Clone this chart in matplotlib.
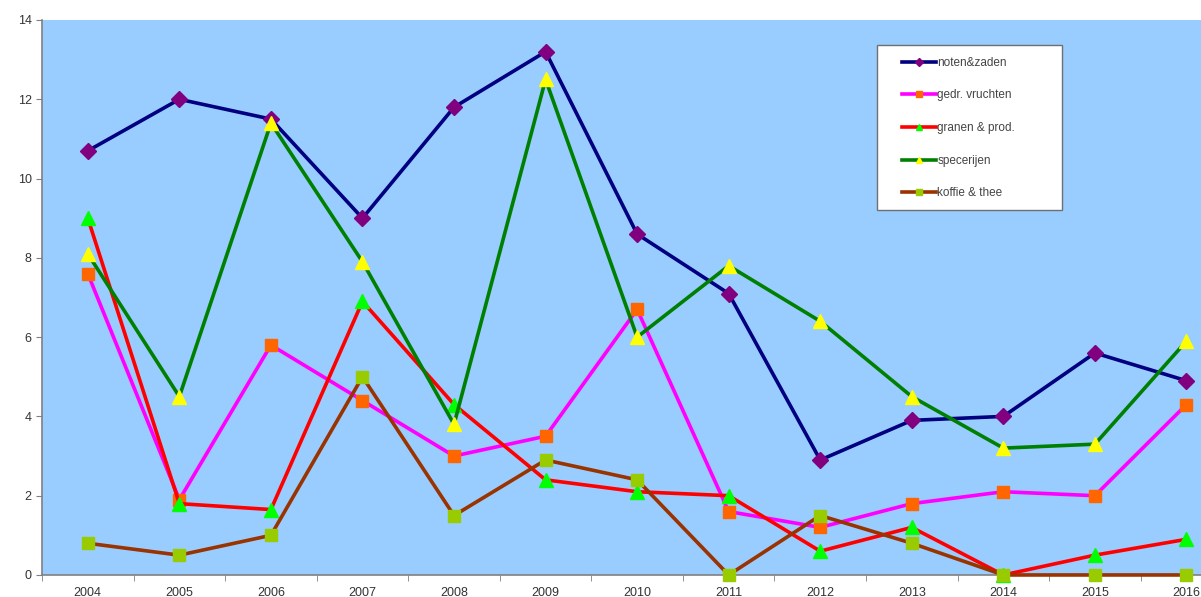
import numpy as np
import matplotlib.pyplot as plt
from matplotlib.patches import Rectangle

plt.rcParams['font.family'] = ['Liberation Sans', 'DejaVu Sans']

years = ['2004', '2005', '2006', '2007', '2008', '2009', '2010',
         '2011', '2012', '2013', '2014', '2015', '2016']

noten_zaden = [10.7, 12.0, 11.5, 9.0, 11.8, 13.2, 8.6, 7.1, 2.9, 3.9, 4.0, 5.6, 4.9]
gedr_vruchten = [7.6, 1.9, 5.8, 4.4, 3.0, 3.5, 6.7, 1.6, 1.2, 1.8, 2.1, 2.0, 4.3]
granen_prod = [9.0, 1.8, 1.65, 6.9, 4.3, 2.4, 2.1, 2.0, 0.6, 1.2, 0.0, 0.5, 0.9]
specerijen = [8.1, 4.5, 11.4, 7.9, 3.8, 12.5, 6.0, 7.8, 6.4, 4.5, 3.2, 3.3, 5.9]
koffie_thee = [0.8, 0.5, 1.0, 5.0, 1.5, 2.9, 2.4, 0.0, 1.5, 0.8, 0.0, 0.0, 0.0]

series = [
    ('noten&zaden', noten_zaden, '#000080', '#800080', 'D', 8),
    ('gedr. vruchten', gedr_vruchten, '#FF00FF', '#FF6600', 's', 9),
    ('granen & prod.', granen_prod, '#FF0000', '#00FF00', '^', 10),
    ('specerijen', specerijen, '#008000', '#FFFF00', '^', 10),
    ('koffie & thee', koffie_thee, '#993300', '#99CC00', 's', 9),
]

fig = plt.figure(figsize=(12.01, 5.97), dpi=100)
ax = fig.add_axes([0.035, 0.0369, 0.991, 0.9296])
ax.set_facecolor('#99CCFF')

x = np.arange(len(years))
for name, vals, lc, mc, mk, ms in series:
    ax.plot(x, vals, color=lc, lw=2.6, marker=mk, ms=ms,
            mfc=mc, mec=mc, label=name, clip_on=False, zorder=3)

ax.set_xlim(-0.5, len(years) - 0.5)
ax.set_ylim(0, 14)
ax.set_yticks(range(0, 15, 2))
ax.set_xticks(x)
ax.set_xticklabels(years)
ax.set_xticks(np.arange(-0.5, len(years), 1), minor=True)
ax.tick_params(axis='x', which='major', length=0, labelsize=9, colors='#333333', pad=9)
ax.tick_params(axis='x', which='minor', length=4, color='#808080')
ax.tick_params(axis='y', length=4, color='#808080', labelsize=9, labelcolor='#333333')

for s in ['top', 'right']:
    ax.spines[s].set_visible(False)
for s in ['left', 'bottom']:
    ax.spines[s].set_color('#808080')
    ax.spines[s].set_linewidth(1.2)

# legend box drawn separately so it can be wider than its contents
fig.patches.append(Rectangle((0.730, 0.648), 0.154, 0.276, transform=fig.transFigure,
                             facecolor='white', edgecolor='#707070', lw=1.0, zorder=4))

handles, labels = ax.get_legend_handles_labels()
leg = fig.legend(handles, labels, loc='upper left', bbox_to_anchor=(0.751, 0.905),
                 fontsize=8.5, frameon=False,
                 labelspacing=1.75, handlelength=2.9, handletextpad=0.1,
                 borderpad=0, borderaxespad=0, markerscale=0.5)
leg.set_zorder(5)
for t in leg.get_texts():
    t.set_color('#444444')

fig.savefig('out.png', dpi=100)
